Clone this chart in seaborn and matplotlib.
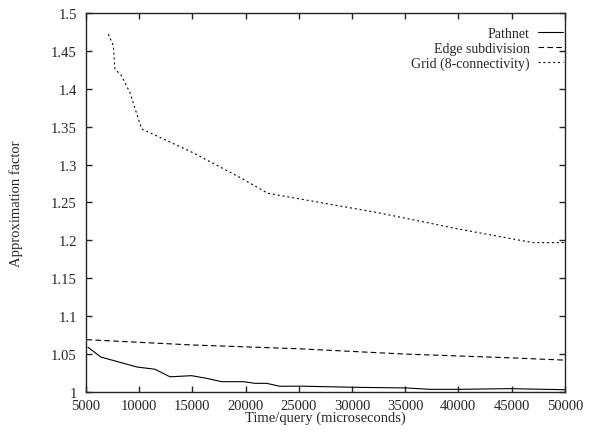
import matplotlib as mpl

mpl.use("Agg")

import matplotlib.pyplot as plt
import seaborn as sns
import numpy as np
from matplotlib.ticker import FormatStrFormatter

sns.set_style("ticks")
plt.rcParams["font.family"] = ["Liberation Serif", "DejaVu Serif"]
plt.rcParams["font.size"] = 10.5

# Pathnet
pathnet_x = [5188, 6409, 7724, 9760, 11483, 12892, 14930, 16340, 17750, 19780,
             20880, 21980, 23230, 25100, 30110, 35130, 37320, 40140, 44830, 50000]
pathnet_y = [1.059, 1.046, 1.041, 1.033, 1.030, 1.020, 1.0215, 1.018, 1.0136, 1.0136,
             1.0114, 1.0114, 1.0075, 1.0077, 1.0062, 1.0053, 1.0035, 1.0035, 1.0044, 1.003]

# Edge subdivision
edge_x = [5060, 15000, 25000, 35000, 45000, 50000]
edge_y = [1.069, 1.062, 1.057, 1.050, 1.045, 1.042]

# Grid (8-connectivity)
grid_x = [7100, 7570, 7720, 8300, 9130, 10230, 15000, 19470, 22100, 27000,
          32620, 40000, 47000, 50000]
grid_y = [1.472, 1.457, 1.426, 1.418, 1.395, 1.347, 1.316, 1.283, 1.262, 1.250,
          1.236, 1.215, 1.197, 1.197]

fig = plt.figure(figsize=(5.97, 4.35), dpi=100)
ax = fig.add_axes([0.144, 0.0966, 0.802, 0.8714])

sns.lineplot(x=pathnet_x, y=pathnet_y, ax=ax, color="black", lw=0.8,
             label="Pathnet", sort=False)
sns.lineplot(x=edge_x, y=edge_y, ax=ax, color="black", lw=0.8,
             label="Edge subdivision", sort=False)
sns.lineplot(x=grid_x, y=grid_y, ax=ax, color="black", lw=0.8,
             label="Grid (8-connectivity)", sort=False)
ax.lines[1].set_dashes([5, 3])
ax.lines[2].set_dashes([1.8, 2.6])

ax.set_xlim(5000, 50000)
ax.set_ylim(1, 1.5)
ax.set_xticks(np.arange(5000, 50001, 5000))
ax.set_yticks(np.arange(1.0, 1.501, 0.05))
ax.yaxis.set_major_formatter(FormatStrFormatter("%g"))
ax.tick_params(direction="in", length=4.3, width=1, top=True, right=True,
               labelsize=10.5)
ax.tick_params(axis="y", pad=6.5)
ax.tick_params(axis="x", pad=5)
for s in ax.spines.values():
    s.set_linewidth(1)

ax.set_xlabel("Time/query (microseconds)", labelpad=-1)
ax.set_ylabel("Approximation factor", labelpad=20)

leg = ax.legend(loc="upper right", frameon=False, markerfirst=False,
                handlelength=1.8, handletextpad=0.6, labelspacing=0.12,
                borderpad=0, borderaxespad=0,
                bbox_to_anchor=(0.996, 0.962), fontsize=10)

fig.savefig("out.png", dpi=100)
